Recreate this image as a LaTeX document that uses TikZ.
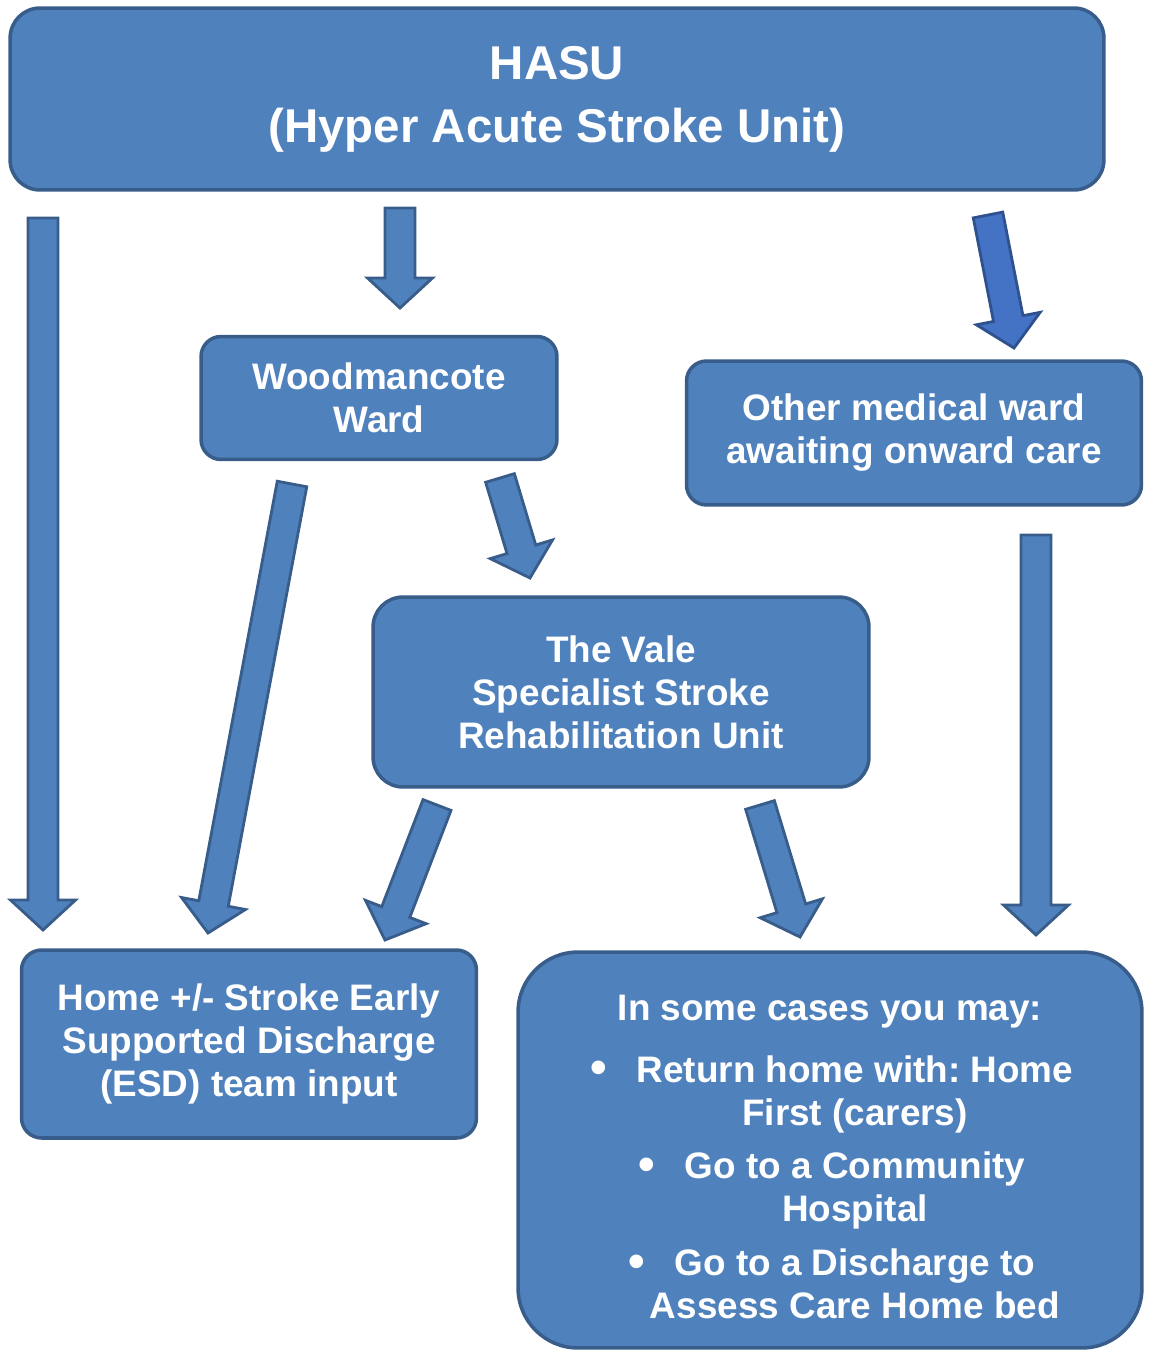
\documentclass[tikz,border=0pt]{standalone}
\usepackage{fontspec}
\setmainfont{Liberation Sans}
\frenchspacing
\usetikzlibrary{calc, positioning}
\definecolor{boxfill}{HTML}{4F81BD}
\definecolor{boxline}{HTML}{385D8A}
\definecolor{brightfill}{HTML}{4472C4}
\definecolor{brightline}{HTML}{2F528F}
\tikzset{
  ward/.style={draw=boxline, fill=boxfill, line width=2pt, rounded corners=0.4cm, text=white, align=center, font=\bfseries\fontsize{21}{24.5}\selectfont, inner sep=0pt},
  hasubox/.style={ward, rounded corners=0.6cm, font=\bfseries\fontsize{27}{36}\selectfont},
  fatarr/.style={draw=boxline, fill=boxfill, line width=1.6pt, line join=miter},
  brightarr/.style={draw=brightline, fill=brightfill},
  listtext/.style={text=white, align=center, font=\bfseries\fontsize{21}{24.5}\selectfont, inner sep=0pt},
}
\newcommand{\bigbullet}{\llap{\raisebox{-1pt}{\fontsize{27}{27}\selectfont\textbullet}\hspace{0.6cm}}}
% block arrow from #2 to #3
\newcommand{\fatarrow}[3][]{%
  \coordinate (fa-h) at ($(#3)!0.6cm!(#2)$);
  \draw[fatarr,#1] ($(#2)!0.3cm!90:(#3)$) -- ($(fa-h)!0.3cm!-90:(#2)$)
    -- ($(fa-h)!0.65cm!-90:(#2)$) -- (#3) -- ($(fa-h)!0.65cm!90:(#2)$)
    -- ($(fa-h)!0.3cm!90:(#2)$) -- ($(#2)!0.3cm!-90:(#3)$) -- cycle;}
\begin{document}
\begin{tikzpicture}[x=0.02cm, y=-0.02cm]
  \useasboundingbox (0,0) rectangle (1149,1351);
  % boxes
  \node[hasubox, minimum width=21.88cm, minimum height=3.64cm] (hasu) at (557,99) {HASU\\(Hyper Acute Stroke Unit)};
  \node[ward, minimum width=7.12cm, minimum height=2.46cm] (wood) at (379,398) {Woodmancote\\Ward};
  \node[ward, minimum width=9.1cm, minimum height=2.88cm] (other) at (914,433) {Other medical ward\\awaiting onward care};
  \node[ward, rounded corners=0.6cm, minimum width=9.92cm, minimum height=3.8cm] (vale) at (621,692) {The Vale\\Specialist Stroke\\Rehabilitation Unit};
  \node[ward, minimum width=9.1cm, minimum height=3.76cm] (home) at (249,1044) {Home +/- Stroke Early\\Supported Discharge\\(ESD) team input};
  \node[ward, rounded corners=1.2cm, minimum width=12.48cm, minimum height=7.92cm] (cases) at (830,1150) {};
  \node[listtext] (casestitle) at (830,1012) {In some cases you may:};
  \node[listtext, anchor=north] (caseslist) at (855,1055) {%
    \bigbullet Return home with: Home\\First (carers)\\[6pt]
    \bigbullet Go to a Community\\Hospital\\[6pt]
    \bigbullet Go to a Discharge to\\Assess Care Home bed};
  % arrow ends
  \coordinate (a1s) at (43,218);   \coordinate (a1e) at (43,930);
  \coordinate (a2s) at (400,208);  \coordinate (a2e) at (400,308);
  \coordinate (a3s) at (988,215);  \coordinate (a3e) at (1014,348);
  \coordinate (a4s) at (292,484);  \coordinate (a4e) at (208,933);
  \coordinate (a5s) at (500,478);  \coordinate (a5e) at (530,578);
  \coordinate (a6s) at (1036,535); \coordinate (a6e) at (1036,935);
  \coordinate (a7s) at (437,805);  \coordinate (a7e) at (385,940);
  \coordinate (a8s) at (760,805);  \coordinate (a8e) at (800,937);
  \fatarrow{a1s}{a1e}
  \fatarrow{a2s}{a2e}
  \fatarrow[brightarr]{a3s}{a3e}
  \fatarrow{a4s}{a4e}
  \fatarrow{a5s}{a5e}
  \fatarrow{a6s}{a6e}
  \fatarrow{a7s}{a7e}
  \fatarrow{a8s}{a8e}
\end{tikzpicture}
\end{document}
